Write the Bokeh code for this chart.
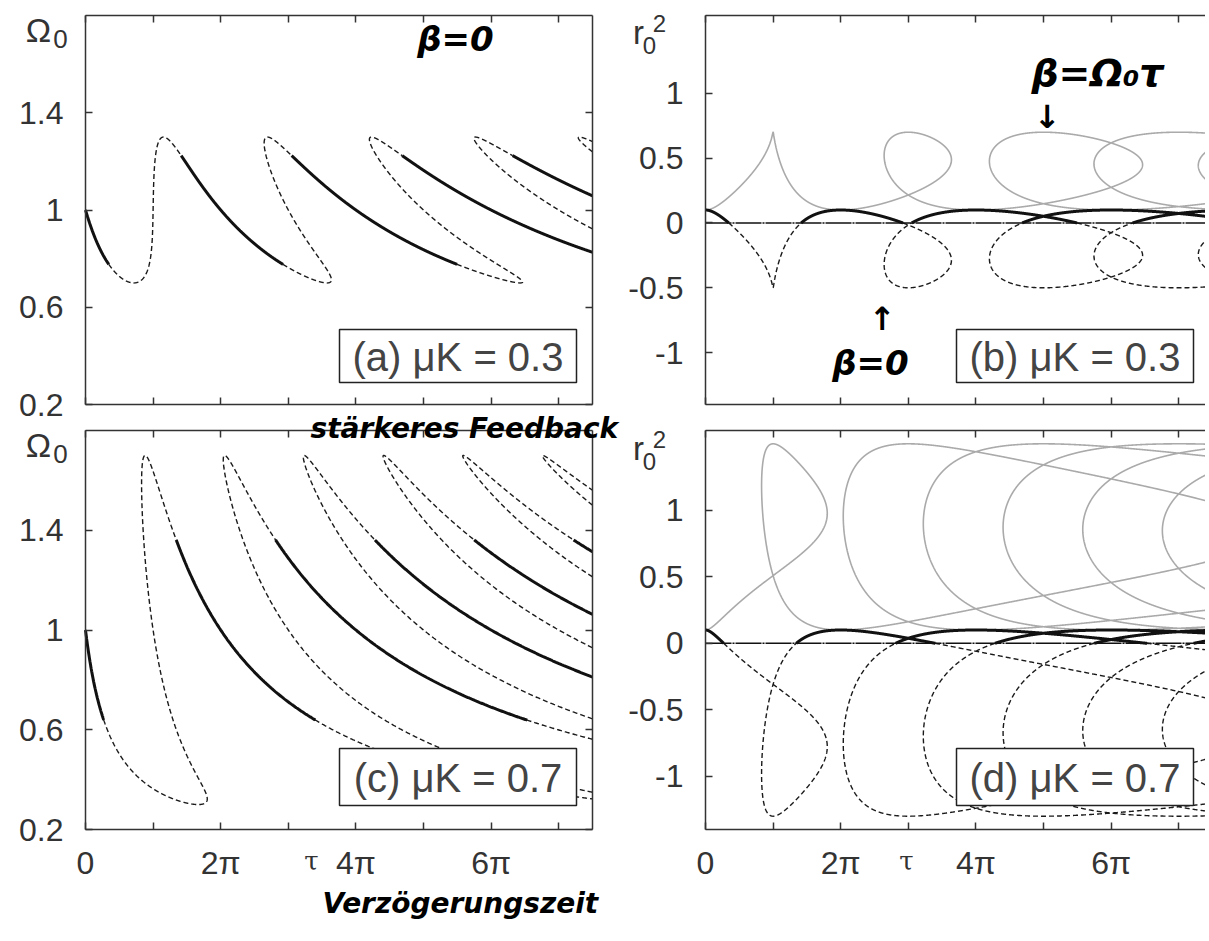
import numpy as np
from bokeh.plotting import figure
from bokeh.models import (FixedTicker, Label, BoxAnnotation, Range1d, LinearAxis,
                          CustomJSTickFormatter, Grid)
from bokeh.embed import file_html
from bokeh.resources import INLINE

# ---------------- data ----------------
muK_values = [0.3, 0.7]                  # feedback strength of the two rows
panel_tags = [["(a)", "(b)"], ["(c)", "(d)"]]
r0sq_tau0 = 0.1                          # r0^2 of the orbit without delay (tau = 0)
omega_tau0 = 1.0                         # Omega0 without delay (tau = 0)
x_ticks_pi = [0, 1, 2, 3, 4, 5, 6, 7]    # tick positions in units of pi
omega_ticks = [0.2, 0.6, 1.0, 1.4]
r_ticks = [-1.0, -0.5, 0.0, 0.5, 1.0]
omega_range = (0.2, 1.8)
r_range = (-1.4, 1.6)
tau_max_pi = 7.5                         # right end of the tau axis, in units of pi
zero_level = [0.0, 0.0]

# ---------------- layout (canvas pixels) ----------------
W, H = 1205, 935
PX_PER_PI = 507 / tau_max_pi
geom = {
    "a": dict(FL=85, FT=15, FH=389, yr=omega_range),
    "b": dict(FL=705, FT=15, FH=389, yr=r_range),
    "c": dict(FL=85, FT=430, FH=399, yr=omega_range),
    "d": dict(FL=705, FT=430, FH=399, yr=r_range),
}
for k, g in geom.items():
    g["xmax"] = tau_max_pi if k in "ac" else (W - g["FL"]) / PX_PER_PI

p = figure(width=W, height=H, x_range=Range1d(0, W), y_range=Range1d(H, 0),
           output_backend="svg", toolbar_location=None,
           x_axis_location=None, y_axis_location=None,
           min_border=0, min_border_left=0, min_border_right=0,
           min_border_top=0, min_border_bottom=0)
p.outline_line_color = None
p.background_fill_color = "white"
p.border_fill_color = "white"
p.renderers = [r for r in p.renderers if not isinstance(r, Grid)]
p.center = [r for r in p.center if not isinstance(r, Grid)]

for k, g in geom.items():
    y0, y1 = g["yr"]
    ypp = (y1 - y0) / g["FH"]
    p.extra_x_ranges["x" + k] = Range1d(-g["FL"] / PX_PER_PI, (W - g["FL"]) / PX_PER_PI)
    p.extra_y_ranges["y" + k] = Range1d(y1 - (H - g["FT"]) * ypp, y1 + g["FT"] * ypp)


def branches(muK):
    theta = np.linspace(0.0, 45.0, 30000)
    omega = omega_tau0 - muK * np.sin(theta)
    tau_pi = theta / omega / np.pi
    black = r0sq_tau0 - muK * (1 - np.cos(theta))
    gray = r0sq_tau0 + muK * (1 - np.cos(theta))
    pos = black >= 0
    solid = pos | np.roll(pos, 1) | np.roll(pos, -1)
    neg = ~pos
    dashed = neg | np.roll(neg, 1) | np.roll(neg, -1)
    return tau_pi, omega, black, gray, solid, dashed


def clip_x(x, y, mask, xmax):
    """keep the part of the polyline with x <= xmax (mask selects the branch)."""
    xs = np.where(mask, x, np.nan)
    ox, oy = [], []
    prev_in = False
    for i in range(len(xs)):
        xi = xs[i]
        cur_in = bool(np.isfinite(xi) and xi <= xmax)
        if i > 0 and np.isfinite(xi) and np.isfinite(xs[i - 1]) and cur_in != prev_in:
            t = (xmax - xs[i - 1]) / (xi - xs[i - 1])
            ox.append(xmax)
            oy.append(y[i - 1] + t * (y[i] - y[i - 1]))
            if not cur_in:
                ox.append(np.nan); oy.append(np.nan)
        if cur_in:
            ox.append(xi); oy.append(y[i])
        elif ox and np.isfinite(ox[-1]):
            ox.append(np.nan); oy.append(np.nan)
        prev_in = cur_in
    return np.array(ox), np.array(oy)


AX_COL = "#333333"
TICK_FONT = "Liberation Sans"

xfmt_labels = CustomJSTickFormatter(code="""
const n = Math.round(tick);
if (n == 0) return "0";
if (n % 2 == 0) return n + "\u03c0";
return "";
""")
fmt_none = CustomJSTickFormatter(code="return '';")
yfmt = CustomJSTickFormatter(code="return (Math.round(tick*10)/10).toString();")


def make_axis(k, ticks, fmt, show, loc, bounds, standoff):
    ax = LinearAxis(x_range_name="x" + k, y_range_name="y" + k,
                    fixed_location=loc, bounds=bounds)
    ax.ticker = FixedTicker(ticks=ticks)
    ax.formatter = fmt
    ax.major_tick_in = 7
    ax.major_tick_out = 0
    ax.minor_tick_line_color = None
    ax.axis_line_color = AX_COL
    ax.axis_line_width = 1.5
    ax.major_tick_line_color = AX_COL
    ax.major_tick_line_width = 1.5
    if show:
        ax.major_label_text_font = TICK_FONT
        ax.major_label_text_font_size = "32px"
        ax.major_label_text_color = "#333333"
        ax.major_label_standoff = standoff
    else:
        ax.major_label_text_font_size = "0px"
        ax.major_label_standoff = 0
    return ax


def add_axes(k, bottom_labels, right_axis, yt):
    g = geom[k]
    y0, y1 = g["yr"]
    xb = (0, g["xmax"])
    p.add_layout(make_axis(k, x_ticks_pi, xfmt_labels if bottom_labels else fmt_none,
                           bottom_labels, y0, xb, 15), "below")
    p.add_layout(make_axis(k, x_ticks_pi, fmt_none, False, y1, xb, 0), "above")
    p.add_layout(make_axis(k, yt, yfmt, True, 0, (y0, y1), 22), "left")
    if right_axis:
        p.add_layout(make_axis(k, yt, fmt_none, False, g["xmax"], (y0, y1), 0), "right")


def add_label(px, py, text, size, font=TICK_FONT, color="#333333",
              align="center", baseline="middle", style="normal"):
    p.add_layout(Label(x=px, y=py, text=text, text_font=font, text_font_size=f"{size}px",
                       text_color=color, text_align=align, text_baseline=baseline,
                       text_font_style=style))


def add_box(x0, y0, x1, y1, text):
    p.add_layout(BoxAnnotation(left=x0, right=x1, top=y0, bottom=y1, fill_color="white",
                               fill_alpha=1.0, line_color="#222222", line_alpha=1.0,
                               line_width=1.5))
    add_label((x0 + x1) / 2, (y0 + y1) / 2 + 1, text, 40, color="#444444")


def draw(k, x, y, mask, **kw):
    cx, cy = clip_x(x, y, mask, geom[k]["xmax"])
    p.line(cx, cy, x_range_name="x" + k, y_range_name="y" + k, **kw)


SOLID = dict(line_color="#111111", line_width=3.0)
DASH = dict(line_color="#1a1a1a", line_width=1.4, line_dash="5 3")
GRAY = dict(line_color="#aaaaaa", line_width=1.6)

for rowi, muK in enumerate(muK_values):
    tau_pi, omega, black, gray, solid, dashed = branches(muK)
    allm = np.ones_like(solid)
    kl, kr = "ac"[rowi], "bd"[rowi]
    # left: Omega0 vs tau
    draw(kl, tau_pi, omega, dashed, **DASH)
    draw(kl, tau_pi, omega, solid, **SOLID)
    add_axes(kl, rowi == 1, True, omega_ticks)
    # right: r0^2 vs tau
    draw(kr, tau_pi, gray, allm, **GRAY)
    draw(kr, tau_pi, black, dashed, **DASH)
    draw(kr, tau_pi, black, solid, **SOLID)
    p.line([0, geom[kr]["xmax"]], zero_level, x_range_name="x" + kr, y_range_name="y" + kr,
           line_color="#111111", line_width=1.5, line_dash="26 1 2 1")
    add_axes(kr, rowi == 1, False, r_ticks)

    dy = 0 if rowi == 0 else 415
    add_label(38, 29 + dy, "\u03a9", 34)
    add_label(60, 38 + dy, "0", 26)
    dy = 0 if rowi == 0 else 416
    add_label(638, 32 + dy, "r", 33)
    add_label(649, 45 + dy, "0", 24)
    add_label(659, 23 + dy, "2", 24)

    by0, by1 = (329, 382) if rowi == 0 else (748, 805)
    add_box(339, by0, 576, by1, f"{panel_tags[rowi][0]} \u03bcK = {muK}")
    add_box(956, by0, 1193, by1, f"{panel_tags[rowi][1]} \u03bcK = {muK}")

# axis titles tau
add_label(311, 860, "\u03c4", 26, font="DejaVu Serif")
add_label(906, 860, "\u03c4", 26, font="DejaVu Serif")

# handwritten annotations
HW = "DejaVu Sans"
add_label(455, 38, "\u03b2=0", 34, font=HW, color="black", style="bold italic")
add_label(1097, 72, "\u03b2=\u03a9\u2080\u03c4", 38, font=HW, color="black", style="bold italic")
add_label(1047, 116, "\u2193", 32, font=HW, color="black", style="bold")
add_label(882, 318, "\u2191", 32, font=HW, color="black", style="bold")
add_label(870, 362, "\u03b2=0", 34, font=HW, color="black", style="bold italic")
add_label(310, 428, "st\u00e4rkeres Feedback", 28, font=HW, color="black",
          align="left", style="bold italic")
add_label(322, 903, "Verz\u00f6gerungszeit", 28, font=HW, color="black",
          align="left", style="bold italic")

open("out.html", "w").write(file_html(p, INLINE))
